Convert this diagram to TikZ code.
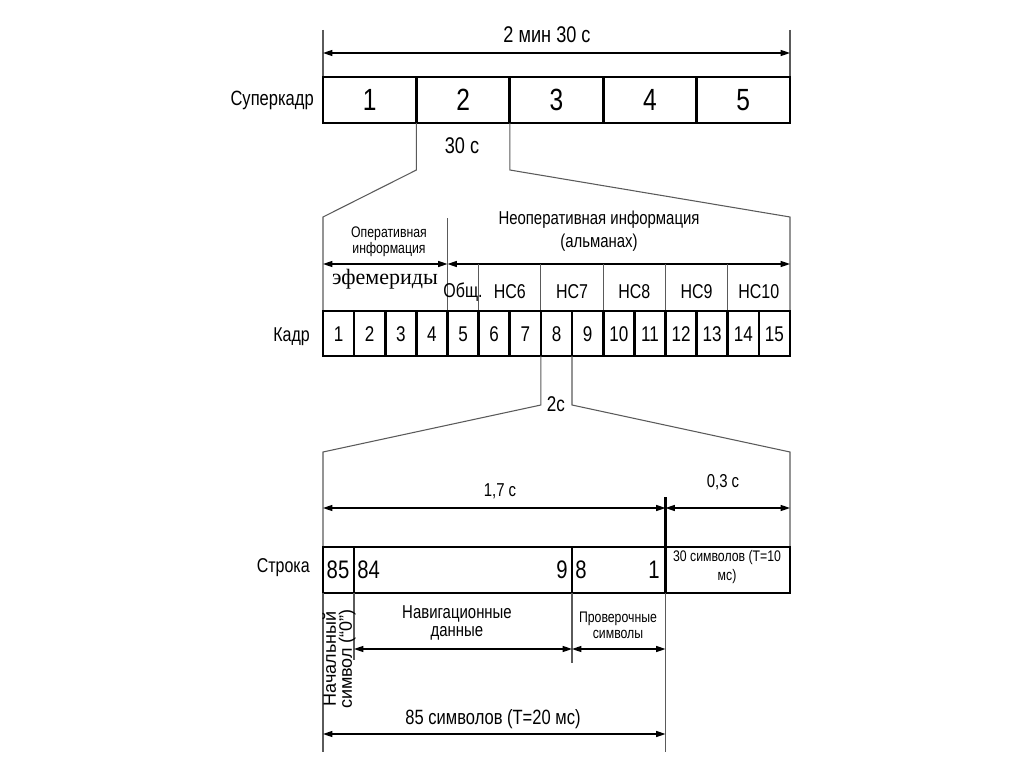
\documentclass[tikz,border=0pt]{standalone}
\usepackage{fontspec}
\setmainfont{Liberation Sans}[FakeStretch=0.8]
\newfontfamily\ephfont{Liberation Serif}
\newfontfamily\widefont{Liberation Sans}
\usepackage{tikz}
\usetikzlibrary{arrows.meta}
\usepackage{xcolor}

\newcommand{\fsz}[1]{\fontsize{#1}{#1}\selectfont}
\definecolor{thingray}{RGB}{90,90,90}

\tikzset{
  boxline/.style={line width=2pt, color=black},
  thinline/.style={line width=0.8pt, color=thingray},
  dimarrow/.style={line width=0.9pt, color=black, {Triangle[length=7pt,width=4.5pt]}-{Triangle[length=7pt,width=4.5pt]}},
  lbl/.style={inner sep=0.75pt, align=center}
}

\begin{document}
\begin{tikzpicture}[x=0.75pt,y=0.75pt,yscale=-1,xscale=1]
\useasboundingbox (0,0) rectangle (1024,767);

%Superframe row
\coordinate (sfNW) at (323,77);
\coordinate (sfSE) at (790,123);
\draw [thinline] (323,30) -- (sfNW) (790,30) -- (790,77);
\draw [dimarrow] (323,53) -- (790,53);
\node (sftime) [lbl] at (547,35) {\fsz{17}2 мин 30 с};
\draw [boxline] (sfNW) rectangle (sfSE);
\foreach \k in {1,...,4} \draw [boxline] ({323+\k*93.4},77) -- ++(0,46);
\foreach \k in {1,...,5} \node (sf\k) [lbl] at ({323+(\k-0.5)*93.4},100) {\fsz{23}\k};
\node (sfname) [lbl, anchor=east] at (315,100) {\fsz{15.5}Суперкадр};
\node (sfdur) [lbl] at (462,146) {\fsz{17}30 с};

%Zoom lines superframe 2 -> frame
\coordinate (zlA) at (416.4,123);
\coordinate (zlB) at (509.8,123);
\coordinate (frNW) at (323,311);
\coordinate (frNE) at (790,311);
\draw [thinline] (zlA) -- (416.4,170) -- (323,217) -- (frNW);
\draw [thinline] (zlB) -- (509.8,170) -- (790,217) -- (frNE);

%Frame headers
\draw [thinline] (447.5,218) -- (447.5,311);
\draw [dimarrow] (323,264) -- (447.5,264);
\draw [dimarrow] (447.5,264) -- (790,264);
\foreach \k in {5,7,9,11,13} \draw [thinline] ({323+\k*31.1333},264) -- ++(0,47);
\node (opinfo) [lbl] at (389,242) {\fsz{11.5}Оперативная\\[0pt]\fsz{11.5}информация};
\node (eph) [lbl] at (385,279) {\ephfont\fsz{16.5}эфемериды};
\node (nopinfo) [lbl] at (599,231) {\fsz{14}Неоперативная информация\\[3pt]\fsz{14}(альманах)};
\node (hdr5) [lbl] at (463,292) {\fsz{15}Общ.};
\node (hdr6) [lbl] at (509.8,292) {\fsz{15}НС6};
\node (hdr7) [lbl] at (572,292) {\fsz{15}НС7};
\node (hdr8) [lbl] at (634.3,292) {\fsz{15}НС8};
\node (hdr9) [lbl] at (696.6,292) {\fsz{15}НС9};
\node (hdr10) [lbl] at (758.8,292) {\fsz{15}НС10};

%Frame row
\draw [boxline] (frNW) rectangle (790,356);
\foreach \k in {1,...,14} \draw [boxline] ({323+\k*31.1333},311) -- ++(0,45);
\foreach \k in {1,...,15} \node (fr\k) [lbl] at ({323+(\k-0.5)*31.1333},334) {\fsz{16}\k};
\node (frname) [lbl, anchor=east] at (311,337) {\fsz{15}Кадр};

%Zoom lines frame 8 -> string
\coordinate (zlC) at (540.9,356);
\coordinate (zlD) at (572,356);
\coordinate (stNW) at (323,547);
\coordinate (stNE) at (790,547);
\draw [thinline] (zlC) -- (540.9,405) -- (323,452) -- (stNW);
\draw [thinline] (zlD) -- (572,405) -- (790,452) -- (stNE);
\node (frdur) [lbl] at (556,404) {\fsz{16}2с};

%String dimensions
\draw [dimarrow] (323,508) -- (665.5,508);
\draw [dimarrow] (665.5,508) -- (790,508);
\draw [boxline] (665.5,497) -- (665.5,547);
\node (navdur) [lbl] at (500,491) {\fsz{14}1,7 с};
\node (chkdur) [lbl] at (723,482) {\fsz{14}0,3 с};

%String row
\draw [boxline] (stNW) rectangle (790,593);
\foreach \x in {354,572,665.5} \draw [boxline] (\x,547) -- (\x,593);
\node (st85) [lbl] at (338,570) {\fsz{19}85};
\node (st84) [lbl, anchor=west] at (356,570) {\fsz{19}84};
\node (st9) [lbl, anchor=east] at (569,570) {\fsz{19}9};
\node (st8) [lbl, anchor=west] at (574,570) {\fsz{19}8};
\node (st1) [lbl, anchor=east] at (661,570) {\fsz{19}1};
\node (stmark) [lbl] at (727,567) {\fsz{11.5}30 символов (Т=10\\[2pt]\fsz{11.5}мс)};
\node (stname) [lbl, anchor=east] at (311,568) {\fsz{15}Строка};

%Bottom dimensions
\draw [thinline] (323,593) -- (323,752) (665.5,593) -- (665.5,752);
\draw [thinline] (354,593) -- (354,660) (572,593) -- (572,663);
\draw [dimarrow] (354,649) -- (572,649);
\draw [dimarrow] (572,649) -- (665.5,649);
\draw [dimarrow] (323,734) -- (665.5,734);
\node (navdata) [lbl] at (457,623) {\fsz{14}Навигационные\\[1pt]\fsz{14}данные};
\node (chksym) [lbl] at (618,625) {\fsz{11.5}Проверочные\\[0pt]\fsz{11.5}символы};
\node (startsym) [lbl, rotate=90] at (339,659) {\widefont\fontsize{13.5}{12.5}\selectfont Начальный\\\widefont\fontsize{13.5}{12.5}\selectfont символ (“0”)};
\node (strtot) [lbl] at (493,719) {\fsz{15.5}85 символов (Т=20 мс)};

\end{tikzpicture}
\end{document}
